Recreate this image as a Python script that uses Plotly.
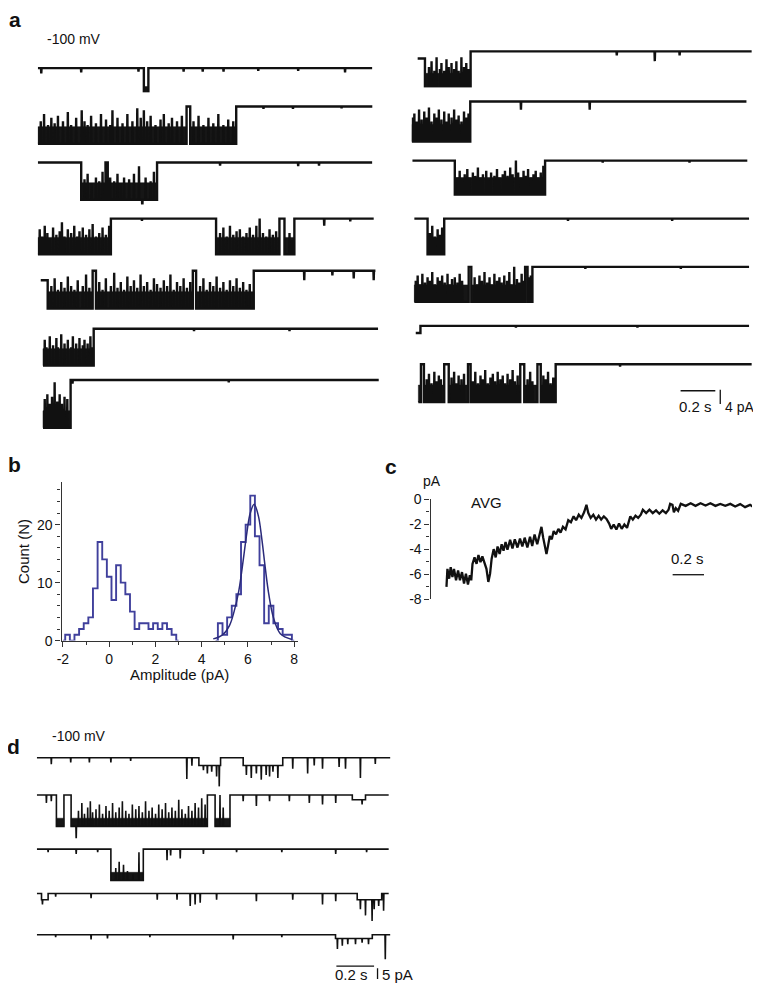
import plotly.graph_objects as go

# Figure is placed at an 8 px body margin, so the figure is the window minus 2*8 px
PAGE_W, PAGE_H, BODY = 761, 995, 8
FW, FH = PAGE_W - 2 * BODY, PAGE_H - 2 * BODY
FONT = "Arial, 'Liberation Sans', Helvetica, sans-serif"
INK = "#111111"
HIST = "#40409c"
FIT = "#2a2a7a"

# ======================= DATA =======================
# Panel a, left column: time (s), current (pA), closed level = 0
aL1_span = [0.0, 1.926]; aL1_amp = -10.0
aL1_states = [(0.611, 0.637, 1.0)]
aL1_flick_t = []; aL1_flick_h = []
aL1_blip_t = [0.02, 0.25, 0.58, 0.84, 0.95, 1.07, 1.27, 1.5, 1.77]
aL1_blip_h = [0.15, 0.12, 0.1, 0.1, 0.1, 0.1, 0.08, 0.08, 0.12]

aL2_span = [0.0, 1.927]; aL2_amp = -10.5
aL2_states = [(0.0, 0.857, 1.0), (0.878, 1.143, 1.0)]
aL2_flick_t = [0.017, 0.036, 0.059, 0.078, 0.097, 0.116, 0.145, 0.173, 0.192, 0.221, 0.253, 0.269, 0.287, 0.307, 0.335,
               0.364, 0.393, 0.417, 0.430, 0.459, 0.488, 0.516, 0.545, 0.573, 0.593, 0.611, 0.630, 0.650, 0.678, 0.707,
               0.726, 0.754, 0.773, 0.802, 0.830, 0.897, 0.926, 0.954, 0.983, 1.011, 1.040, 1.069, 1.097, 1.126]
aL2_flick_h = [0.6, 0.8, 0.5, 0.7, 0.55, 0.75, 0.6, 0.85, 0.5, 0.7, 0.9, 0.6, 0.5, 0.75, 0.55,
               0.8, 0.65, 0.5, 0.9, 0.7, 0.55, 0.8, 0.6, 0.95, 0.7, 0.9, 0.6, 0.75, 0.5, 0.65,
               0.8, 0.55, 0.7, 0.6, 0.75, 0.6, 0.75, 0.5, 0.7, 0.55, 0.8, 0.5, 0.65, 0.6]
aL2_blip_t = [1.3, 1.47, 1.75]; aL2_blip_h = [0.06, 0.06, 0.05]

aL3_span = [0.0, 1.926]; aL3_amp = -10.5
aL3_states = [(0.25, 0.39, 1.0), (0.403, 0.687, 1.0)]
aL3_flick_t = [0.269, 0.287, 0.31, 0.335, 0.354, 0.373, 0.417, 0.44, 0.459, 0.478, 0.497, 0.526, 0.554, 0.583,
               0.602, 0.621, 0.65, 0.669]
aL3_flick_h = [0.55, 0.7, 0.45, 0.6, 0.5, 0.75, 0.6, 0.5, 0.7, 0.45, 0.6, 0.55, 0.7, 0.9,
               -0.25, 0.6, 0.5, 0.75]
aL3_blip_t = [1.05, 1.5, 1.62]; aL3_blip_h = [0.08, 0.1, 0.08]

aL4_span = [0.0, 1.935]; aL4_amp = -10.1
aL4_states = [(0.0, 0.421, 1.0), (1.027, 1.392, 1.0), (1.421, 1.478, 1.0)]
aL4_flick_t = [0.011, 0.025, 0.04, 0.055, 0.069, 0.088, 0.107, 0.126, 0.139, 0.154, 0.173, 0.192, 0.21, 0.227,
               0.24, 0.259, 0.278, 0.297, 0.316, 0.335, 0.354, 0.373, 0.392, 0.411,
               1.05, 1.069, 1.088, 1.107, 1.126, 1.145, 1.164, 1.183, 1.202, 1.221, 1.24, 1.259, 1.278, 1.297,
               1.316, 1.335, 1.354, 1.373, 1.45, 1.465]
aL4_flick_h = [0.7, 0.5, 0.8, 0.6, 0.45, 0.75, 0.55, 0.65, 0.9, 0.5, 0.7, 0.6, 0.8, 0.5,
               0.65, 0.75, 0.55, 0.7, 0.85, 0.5, 0.6, 0.75, 0.55, 0.8,
               0.6, 0.75, 0.5, 0.8, 0.55, 0.65, 0.7, 0.5, 0.6, 0.75, 0.55, 0.8, 1.0, 0.6,
               0.5, 0.7, 0.55, 0.65, 0.6, 0.4]
aL4_blip_t = [0.6, 1.65, 1.8]; aL4_blip_h = [0.06, 0.2, 0.08]

aL5_span = [0.017, 1.945]; aL5_amp = -10.7
aL5_states = [(0.017, 0.057, 0.25), (0.057, 0.316, 1.0), (0.335, 0.893, 1.0), (0.912, 1.244, 1.0)]
aL5_flick_t = [0.078, 0.097, 0.116, 0.135, 0.154, 0.173, 0.192, 0.211, 0.23, 0.259, 0.278, 0.297, 0.354, 0.373,
               0.392, 0.421, 0.44, 0.459, 0.478, 0.497, 0.516, 0.535, 0.554, 0.573, 0.592, 0.611, 0.63, 0.65,
               0.669, 0.687, 0.707, 0.726, 0.745, 0.764, 0.783, 0.802, 0.821, 0.84, 0.859, 0.878, 0.935, 0.954,
               0.973, 0.992, 1.011, 1.03, 1.05, 1.069, 1.088, 1.107, 1.126, 1.145, 1.164, 1.183, 1.202, 1.221]
aL5_flick_h = [0.6, 0.8, 0.5, 0.7, 0.55, 0.85, 0.6, 0.5, 0.75, 0.6, 0.9, 0.55, 0.7, 0.5,
               0.8, 0.6, 0.95, 0.55, 0.7, 0.5, 0.85, 0.6, 0.75, 0.55, 0.9, 0.6, 0.7, 0.5,
               0.8, 0.65, 0.55, 0.75, 0.6, 0.9, 0.5, 0.7, 0.6, 0.8, 0.55, 0.7, 0.6, 0.8,
               0.5, 0.7, 0.6, 0.85, 0.55, 0.7, 0.5, 0.75, 0.6, 0.8, 0.55, 0.7, 0.5, 0.65]
aL5_blip_t = [1.535, 1.697, 1.82, 1.935]; aL5_blip_h = [0.25, 0.12, 0.2, 0.25]

aL6_span = [0.03, 1.96]; aL6_amp = -10.4
aL6_states = [(0.03, 0.322, 1.0)]
aL6_flick_t = [0.04, 0.05, 0.069, 0.088, 0.107, 0.116, 0.135, 0.154, 0.173, 0.192, 0.202, 0.221, 0.24, 0.259,
               0.269, 0.287, 0.303, 0.316]
aL6_flick_h = [0.7, 0.5, 0.8, 0.55, 0.75, 0.5, 0.85, 0.6, 0.7, 0.5, 0.8, 0.6, 0.75, 0.55,
               0.7, 0.6, 0.8, 0.5]
aL6_blip_t = [0.9, 1.45]; aL6_blip_h = [0.06, 0.06]

aL7_span = [0.03, 1.964]; aL7_amp = -13.5
aL7_states = [(0.03, 0.189, 1.0)]
aL7_flick_t = [0.04, 0.055, 0.069, 0.082, 0.097, 0.112, 0.126, 0.139, 0.154, 0.17]
aL7_flick_h = [0.6, 0.7, 0.5, 0.65, 0.95, 0.55, 0.7, 0.5, 0.65, 0.6]
aL7_blip_t = [0.2, 1.1]; aL7_blip_h = [0.08, 0.05]

# Panel a, right column
aR1_span = [0.034, 1.958]; aR1_amp = -11.0
aR1_states = [(0.034, 0.076, 0.18), (0.076, 0.339, 1.0)]
aR1_flick_t = [0.099, 0.114, 0.13, 0.143, 0.162, 0.171, 0.187, 0.2, 0.213, 0.229, 0.244, 0.257, 0.27, 0.286,
               0.301, 0.314, 0.327]
aR1_flick_h = [0.6, 0.75, 0.5, 0.85, 0.55, 0.7, 0.5, 0.8, 0.6, 0.7, 0.55, 0.75, 0.5, 0.85,
               0.6, 0.7, 0.55]
aR1_blip_t = [1.181, 1.4, 1.543]; aR1_blip_h = [0.1, 0.25, 0.1]

aR2_span = [0.0, 1.928]; aR2_amp = -11.3
aR2_states = [(0.0, 0.337, 1.0)]
aR2_flick_t = [0.004, 0.015, 0.029, 0.042, 0.057, 0.072, 0.086, 0.099, 0.114, 0.13, 0.143, 0.156, 0.171, 0.187,
               0.2, 0.213, 0.229, 0.244, 0.257, 0.27, 0.286, 0.301, 0.314, 0.327]
aR2_flick_h = [0.6, 0.7, 0.5, 0.8, 0.55, 0.75, 0.6, 0.85, 0.5, 0.7, 0.6, 0.8, 0.55, 0.75,
               0.5, 0.7, 0.6, 0.8, 0.55, 0.65, 0.5, 0.75, 0.6, 0.7]
aR2_blip_t = [0.629, 1.025]; aR2_blip_h = [0.2, 0.2]

aR3_span = [0.004, 1.933]; aR3_amp = -9.6
aR3_states = [(0.248, 0.768, 1.0)]
aR3_flick_t = [0.263, 0.276, 0.29, 0.305, 0.32, 0.333, 0.352, 0.366, 0.381, 0.396, 0.41, 0.429, 0.442, 0.457,
               0.476, 0.491, 0.505, 0.524, 0.537, 0.552, 0.567, 0.581, 0.6, 0.613, 0.629, 0.644, 0.657, 0.67,
               0.686, 0.701, 0.714, 0.727, 0.743, 0.758]
aR3_flick_h = [0.5, 0.7, 0.45, 0.6, 0.75, 0.5, 0.65, 0.55, 0.8, 0.5, 0.6, 0.7, 0.45, 0.65,
               0.55, 0.75, 0.5, 0.6, 0.7, 0.55, 0.8, 0.6, 1.0, 0.65, 0.5, 0.7, 0.55, 0.75,
               0.5, 0.6, 0.7, 0.5, 0.65, 0.85]
aR3_blip_t = [1.1, 1.6]; aR3_blip_h = [0.06, 0.06]

aR4_span = [0.015, 1.943]; aR4_amp = -10.1
aR4_states = [(0.091, 0.187, 1.0)]
aR4_flick_t = [0.105, 0.118, 0.133, 0.149, 0.162, 0.175]
aR4_flick_h = [0.6, 0.8, 0.5, 0.7, 0.55, 0.75]
aR4_blip_t = [0.9, 1.5]; aR4_blip_h = [0.06, 0.06]

aR5_span = [0.015, 1.943]; aR5_amp = -9.9
aR5_states = [(0.015, 0.328, 1.0), (0.343, 0.653, 1.0), (0.667, 0.695, 1.0)]
aR5_flick_t = [0.023, 0.034, 0.048, 0.061, 0.076, 0.091, 0.105, 0.118, 0.133, 0.149, 0.162, 0.175, 0.19, 0.206,
               0.219, 0.232, 0.248, 0.263, 0.276, 0.29, 0.362, 0.377, 0.39, 0.404, 0.419, 0.434, 0.448, 0.461,
               0.476, 0.491, 0.505, 0.518, 0.533, 0.549, 0.562, 0.575, 0.59, 0.606, 0.619, 0.633, 0.644, 0.676,
               0.686]
aR5_flick_h = [0.6, 0.75, 0.5, 0.8, 0.55, 0.7, 0.6, 0.85, 0.5, 0.7, 0.6, 0.75, 0.55, 0.8,
               0.5, 0.65, 0.7, 0.55, 0.8, 0.6, 0.7, 0.5, 0.75, 0.6, 0.85, 0.55, 0.7, 0.5,
               0.8, 0.6, 0.7, 0.55, 0.75, 0.6, 0.85, 0.5, 1.0, 0.65, 0.55, 0.8, 0.6, 0.7,
               0.75]
aR5_blip_t = [1.0, 1.55]; aR5_blip_h = [0.06, 0.06]

aR6_span = [0.023, 1.943]; aR6_amp = -10.0
aR6_states = [(0.023, 0.05, 0.2)]
aR6_flick_t = []; aR6_flick_h = []
aR6_blip_t = [0.6, 1.3]; aR6_blip_h = [0.05, 0.05]

aR7_span = [0.038, 1.958]; aR7_amp = -10.7
aR7_states = [(0.038, 0.053, 1.0), (0.07, 0.187, 1.0), (0.213, 0.324, 1.0), (0.339, 0.625, 1.0),
              (0.648, 0.724, 1.0), (0.743, 0.829, 1.0)]
aR7_flick_t = [0.086, 0.099, 0.114, 0.13, 0.143, 0.156, 0.168, 0.229, 0.244, 0.257, 0.27, 0.286, 0.301, 0.352,
               0.366, 0.381, 0.396, 0.41, 0.423, 0.438, 0.453, 0.467, 0.48, 0.495, 0.51, 0.524, 0.537, 0.552,
               0.567, 0.581, 0.594, 0.61, 0.667, 0.682, 0.695, 0.758, 0.771, 0.785, 0.8, 0.815]
aR7_flick_h = [0.6, 0.75, 0.5, 0.8, 0.55, 0.7, 0.6, 0.65, 0.8, 0.5, 0.7, 0.6, 0.75, 0.55,
               0.8, 0.5, 0.7, 0.6, 0.85, 0.5, 0.65, 0.75, 0.55, 0.8, 0.6, 0.7, 0.5, 0.75,
               0.6, 0.85, 0.55, 0.7, 0.6, 0.8, 0.55, 0.7, 0.6, 0.8, 0.5, 0.65]
aR7_blip_t = [1.2]; aR7_blip_h = [0.06]

# Panel d
d1_span = [0.0, 1.875]; d1_amp = -14.5
d1_states = [(0.86, 0.975, 0.25), (1.095, 1.305, 0.25)]
d1_flick_t = []; d1_flick_h = []
d1_blip_t = [0.077, 0.18, 0.279, 0.393, 0.498, 0.796, 0.823, 0.884, 0.905, 0.928, 0.954, 0.968, 1.112, 1.138,
             1.165, 1.191, 1.217, 1.235, 1.253, 1.279, 1.358, 1.437, 1.472, 1.516, 1.604, 1.638, 1.717, 1.796]
d1_blip_h = [0.21, 0.15, 0.15, 0.15, 0.1, 0.68, 0.26, 0.4, 0.5, 0.45, 0.6, 0.94, 0.55, 0.65,
             0.5, 0.7, 0.55, 0.6, 0.45, 0.65, 0.35, 0.5, 0.25, 0.35, 0.3, 0.35, 0.65, 0.2]

d2_span = [0.0, 1.867]; d2_amp = -14.5
d2_states = [(0.104, 0.144, 1.0), (0.182, 0.905, 1.0), (0.946, 1.025, 1.0), (1.674, 1.744, 0.15)]
d2_flick_t = [0.209, 0.221, 0.239, 0.253, 0.270, 0.284, 0.296, 0.314, 0.332, 0.349, 0.367, 0.384, 0.402, 0.419,
              0.437, 0.454, 0.472, 0.489, 0.507, 0.525, 0.542, 0.56, 0.577, 0.595, 0.612, 0.63, 0.647, 0.665,
              0.683, 0.7, 0.717, 0.735, 0.753, 0.77, 0.788, 0.805, 0.823, 0.84, 0.858, 0.875, 0.893, 0.972,
              0.989]
d2_flick_h = [-0.45, 0.5, 0.75, 0.4, 0.6, 0.8, 0.45, 0.55, 0.7, 0.4, 0.65, 0.5, 0.75, 0.45,
              0.6, 0.8, 0.5, 0.4, 0.7, 0.55, 0.65, 0.45, 0.8, 0.5, 0.6, 0.4, 0.7, 0.55,
              0.75, 0.45, 0.6, 0.5, 0.85, 0.55, 0.4, 0.65, 0.5, 0.75, 0.6, 0.9, 0.7, 1.0,
              0.6]
d2_blip_t = [0.051, 0.077, 1.095, 1.165, 1.235, 1.34, 1.446, 1.516, 1.586, 1.726]
d2_blip_h = [0.25, 0.2, 0.2, 0.35, 0.2, 0.2, 0.25, 0.3, 0.25, 0.3]

d3_span = [0.0, 1.867]; d3_amp = -14.5
d3_states = [(0.393, 0.565, 1.0)]
d3_flick_t = [0.419, 0.437, 0.46, 0.481, 0.51, 0.542]
d3_flick_h = [0.4, 0.6, 0.5, 0.3, 0.2, 0.9]
d3_blip_t = [0.06, 0.209, 0.323, 0.691, 0.71, 0.761, 0.884, 1.06, 1.3, 1.586, 1.75]
d3_blip_h = [0.1, 0.15, 0.1, 0.35, 0.2, 0.3, 0.15, 0.1, 0.1, 0.15, 0.1]

d4_span = [0.0, 1.867]; d4_amp = -14.5
d4_states = [(0.025, 0.06, 0.2), (1.70, 1.83, 0.2)]
d4_flick_t = []; d4_flick_h = []
d4_blip_t = [0.03, 0.1, 0.288, 0.639, 0.744, 0.814, 0.84, 0.867, 0.954, 1.165, 1.358, 1.516, 1.586, 1.717,
             1.744, 1.779, 1.79, 1.814, 1.84]
d4_blip_h = [0.35, 0.1, 0.15, 0.2, 0.2, 0.4, 0.35, 0.3, 0.2, 0.25, 0.2, 0.35, 0.25, 0.5,
             0.7, 0.88, 0.5, 0.4, 0.55]

d5_span = [0.0, 1.875]; d5_amp = -14.5
d5_states = [(1.585, 1.78, 0.12)]
d5_flick_t = []; d5_flick_h = []
d5_blip_t = [0.1, 0.288, 0.375, 0.6, 1.042, 1.3, 1.595, 1.621, 1.65, 1.691, 1.726, 1.76, 1.849]
d5_blip_h = [0.08, 0.15, 0.12, 0.08, 0.15, 0.08, 0.45, 0.35, 0.3, 0.3, 0.25, 0.3, 0.78]

# Panel b: amplitude histogram (bin centres, pA; counts)
b_left_center = [-2.0, -1.8, -1.6, -1.4, -1.2, -1.0, -0.8, -0.6, -0.4, -0.2, 0.0, 0.2, 0.4, 0.6, 0.8, 1.0,
                 1.2, 1.4, 1.6, 1.8, 2.0, 2.2, 2.4, 2.6, 2.8, 3.0]
b_left_count = [0, 1, 0, 1, 2, 3, 4, 9, 17, 14, 11, 7, 13, 10, 8, 5,
                2, 3, 3, 2, 3, 2, 3, 2, 1, 0]
b_right_center = [4.6, 4.8, 5.0, 5.2, 5.4, 5.6, 5.8, 6.0, 6.2, 6.4, 6.6, 6.8, 7.0, 7.2, 7.4, 7.6, 7.8, 8.0]
b_right_count = [0, 3, 1, 4, 6, 8, 17, 20, 25, 18, 13, 3, 6, 3, 2, 1, 1, 0]
b_fit_x = [4.5, 4.9, 5.2, 5.4, 5.6, 5.8, 5.95, 6.1, 6.27, 6.45, 6.6, 6.75, 6.9, 7.1, 7.4, 7.9]
b_fit_y = [0.3, 1.0, 2.6, 5.0, 8.5, 14.0, 18.5, 22.0, 23.5, 21.5, 17.5, 12.5, 8.0, 4.0, 1.2, 0.2]
b_xticks = [-2, 0, 2, 4, 6, 8]
b_yticks = [0, 10, 20]

# Panel c: averaged current (s, pA)
c_t = [0.000, 0.006, 0.017, 0.027, 0.038, 0.048, 0.061, 0.074, 0.086, 0.099, 0.112, 0.124, 0.137, 0.149, 0.158,
       0.166, 0.179, 0.192, 0.204, 0.217, 0.229, 0.242, 0.255, 0.267, 0.278, 0.288, 0.301, 0.314, 0.326, 0.339,
       0.352, 0.364, 0.377, 0.389, 0.406, 0.421, 0.436, 0.453, 0.469, 0.484, 0.499, 0.516, 0.533, 0.547, 0.562,
       0.579, 0.596, 0.606, 0.617, 0.627, 0.638, 0.648, 0.659, 0.672, 0.684, 0.699, 0.714, 0.728, 0.743, 0.76,
       0.777, 0.794, 0.811, 0.827, 0.844, 0.861, 0.878, 0.893, 0.905, 0.92, 0.937, 0.954, 0.971, 0.987, 1.004,
       1.021, 1.038, 1.051, 1.067, 1.084, 1.101, 1.118, 1.135, 1.152, 1.164, 1.173, 1.189, 1.206, 1.223, 1.24,
       1.253, 1.274, 1.295, 1.316, 1.337, 1.358, 1.379, 1.4, 1.417, 1.427, 1.442, 1.451, 1.463, 1.478, 1.495,
       1.526, 1.558, 1.589, 1.621, 1.653, 1.684, 1.716, 1.747, 1.779, 1.811, 1.842, 1.874, 1.905, 1.937, 1.968]
c_i = [-7.03, -5.58, -6.37, -5.45, -6.24, -5.58, -6.5, -5.71, -6.5, -5.84, -6.76, -5.97, -6.84, -6.1, -6.5,
       -5.18, -4.66, -5.18, -4.47, -5.05, -4.58, -5.18, -5.58, -6.63, -5.97, -4.79, -4.0, -4.66, -3.79, -4.39,
       -3.61, -4.13, -3.42, -4.05, -3.26, -3.95, -3.21, -3.87, -3.16, -3.79, -3.08, -3.87, -3.0, -3.74, -2.82,
       -3.61, -2.82, -2.21, -3.08, -3.74, -4.39, -3.74, -2.95, -3.21, -2.55, -2.82, -2.37, -2.68, -2.21, -2.42,
       -1.68, -1.84, -1.37, -1.68, -1.24, -1.5, -1.05, -0.45, -1.11, -1.5, -1.24, -1.63, -1.32, -1.63, -1.37,
       -1.58, -1.95, -2.37, -2.03, -2.42, -1.95, -2.37, -2.03, -2.29, -1.76, -1.37, -1.63, -1.32, -1.5, -1.24,
       -0.84, -1.11, -0.84, -1.11, -0.89, -1.16, -0.89, -1.11, -0.84, -0.37, -0.45, -1.05, -0.71, -0.92, -0.37,
       -0.53, -0.32, -0.53, -0.32, -0.5, -0.32, -0.53, -0.37, -0.53, -0.37, -0.58, -0.39, -0.63, -0.45, -0.71]
c_yticks = [0, -2, -4, -6, -8]

# Scale bars (value sizes)
a_bar_s, a_bar_pA = 0.2, 4.0
d_bar_s, d_bar_pA = 0.2, 5.0
c_bar_s = 0.2

# ======================= LAYOUT GEOMETRY (window pixels) =======================
def pxx(x):
    return (x - BODY) / FW

def pxy(y):
    return 1 - (y - BODY) / FH

A_PPA, A_YR = 3.6, (-15.0, 4.0)     # px per pA, y range per trace axis
D_PPA, D_YR = 2.2, (-20.0, 4.0)
aL_base_px = [61, 100, 157, 214, 267, 326, 378]
aR_base_px = [44, 95, 155, 214, 263, 323, 362]
d_base_px = [762, 800, 855, 900, 942]

a_left_x = (33, 175.0, 2.0)    # left px, px per s, range s
a_right_x = (410, 175.0, 1.96)
d_x = (32, 190.0, 1.9)

# ======================= BUILD =======================
def build_trace(span, amp, states, ft, fh, bt, bh, w=0.0016):
    t0, t1 = span

    def level(t):
        for a, b, f in states:
            if a <= t < b:
                return amp * f
        return 0.0

    items = []
    bounds = {t0, t1}
    for a, b, f in states:
        bounds.add(a); bounds.add(b)
    for t in sorted(bounds):
        if t0 <= t <= t1:
            items.append((t, 0, 0.0))
    for t, h in zip(ft, fh):
        items.append((t, 1, amp * (1 - h)))
    for t, h in zip(bt, bh):
        items.append((t, 1, amp * h))
    items.sort()
    xs, ys = [], []
    for t, kind, peak in items:
        if kind == 0:
            if t > t0:
                xs.append(t); ys.append(level(t - 1e-9))
            if t < t1:
                xs.append(t); ys.append(level(t))
        else:
            base = level(t)
            xs += [t - w, t, t + w]
            ys += [base, peak, base]
    return xs, ys


fig = go.Figure()
layout = dict(
    width=FW, height=FH, autosize=False,
    margin=dict(l=0, r=0, t=0, b=0),
    paper_bgcolor="white", plot_bgcolor="white",
    showlegend=False,
    font=dict(family=FONT, color=INK, size=14),
)

AX = dict(showline=True, linecolor="#333", linewidth=1.3, ticks="outside", ticklen=5, tickwidth=1.2,
          tickcolor="#333", tickfont=dict(size=14, color=INK), showgrid=False, zeroline=False, fixedrange=True)

# Panel b axes: x / y
layout["xaxis"] = dict(AX, domain=[pxx(57), pxx(295)], range=[-2.056, 8.15], anchor="y",
                       tickvals=b_xticks, ticktext=[str(v) for v in b_xticks],
                       minor=dict(ticks="outside", ticklen=3, dtick=1, tick0=0, tickcolor="#333", showgrid=False))
layout["yaxis"] = dict(AX, domain=[pxy(643), pxy(482)], range=[0, 27.3], anchor="x",
                       tickvals=b_yticks, ticktext=[str(v) for v in b_yticks],
                       minor=dict(ticks="outside", ticklen=3, dtick=2, tick0=0, tickcolor="#333", showgrid=False))
for cx, cy in [(b_left_center, b_left_count), (b_right_center, b_right_count)]:
    fig.add_trace(go.Scatter(x=cx, y=cy, mode="lines", line=dict(color=HIST, width=1.9, shape="hvh"),
                             xaxis="x", yaxis="y", hoverinfo="skip"))
fig.add_trace(go.Scatter(x=b_fit_x, y=b_fit_y, mode="lines", line=dict(color=FIT, width=1.5, shape="spline"),
                         xaxis="x", yaxis="y", hoverinfo="skip"))

# Panel c axes: x2 / y2
c_left_px, c_t0_px, c_ppx, c_right_px = 429, 445, 158.0, 753
c_top_px, c_bot_px = 499.3, 600.7
layout["xaxis2"] = dict(domain=[pxx(c_left_px), pxx(c_right_px)],
                        range=[(c_left_px - c_t0_px) / c_ppx, (c_right_px - c_t0_px) / c_ppx],
                        anchor="y2", visible=False, fixedrange=True)
layout["yaxis2"] = dict(AX, domain=[pxy(c_bot_px), pxy(c_top_px)], range=[-8, 0], anchor="x2",
                        tickvals=c_yticks, ticktext=[str(v) for v in c_yticks],
                        minor=dict(ticks="outside", ticklen=3, dtick=1, tick0=0, tickcolor="#333", showgrid=False))
fig.add_trace(go.Scatter(x=c_t, y=c_i, mode="lines", line=dict(color=INK, width=2.3),
                         xaxis="x2", yaxis="y2", hoverinfo="skip"))

# Column x axes for traces
def col_axis(spec):
    left, ppx, rng = spec
    return dict(domain=[pxx(left), min(1.0, pxx(left + rng * ppx))], range=[0, rng], visible=False,
                anchor="free", position=0, fixedrange=True)

layout["xaxis3"] = col_axis(a_left_x)
layout["xaxis4"] = col_axis(a_right_x)
layout["xaxis5"] = col_axis(d_x)

ynum = [6]
def add_record(xname, base_px, ppa, yr, span, amp, states, ft, fh, bt, bh, band, lw):
    n = ynum[0]; ynum[0] += 1
    top = base_px - yr[1] * ppa
    bot = base_px - yr[0] * ppa
    layout[f"yaxis{n}"] = dict(domain=[max(0.0, pxy(bot)), min(1.0, pxy(top))], range=list(yr), visible=False,
                               anchor=xname, fixedrange=True)
    for a, b, f in states:
        if f >= 1.0 and b - a > 0.012:
            fig.add_trace(go.Scatter(x=[a, b, b, a, a], y=[amp, amp, amp + band, amp + band, amp],
                                     mode="lines", fill="toself", fillcolor="#161616",
                                     line=dict(width=0.5, color="#161616"),
                                     xaxis=xname, yaxis=f"y{n}", hoverinfo="skip"))
    xs, ys = build_trace(span, amp, states, ft, fh, bt, bh)
    fig.add_trace(go.Scatter(x=xs, y=ys, mode="lines", line=dict(color=INK, width=lw),
                             xaxis=xname, yaxis=f"y{n}", hoverinfo="skip"))
    return f"y{n}"

aL_records = [
    (aL1_span, aL1_amp, aL1_states, aL1_flick_t, aL1_flick_h, aL1_blip_t, aL1_blip_h),
    (aL2_span, aL2_amp, aL2_states, aL2_flick_t, aL2_flick_h, aL2_blip_t, aL2_blip_h),
    (aL3_span, aL3_amp, aL3_states, aL3_flick_t, aL3_flick_h, aL3_blip_t, aL3_blip_h),
    (aL4_span, aL4_amp, aL4_states, aL4_flick_t, aL4_flick_h, aL4_blip_t, aL4_blip_h),
    (aL5_span, aL5_amp, aL5_states, aL5_flick_t, aL5_flick_h, aL5_blip_t, aL5_blip_h),
    (aL6_span, aL6_amp, aL6_states, aL6_flick_t, aL6_flick_h, aL6_blip_t, aL6_blip_h),
    (aL7_span, aL7_amp, aL7_states, aL7_flick_t, aL7_flick_h, aL7_blip_t, aL7_blip_h),
]
aR_records = [
    (aR1_span, aR1_amp, aR1_states, aR1_flick_t, aR1_flick_h, aR1_blip_t, aR1_blip_h),
    (aR2_span, aR2_amp, aR2_states, aR2_flick_t, aR2_flick_h, aR2_blip_t, aR2_blip_h),
    (aR3_span, aR3_amp, aR3_states, aR3_flick_t, aR3_flick_h, aR3_blip_t, aR3_blip_h),
    (aR4_span, aR4_amp, aR4_states, aR4_flick_t, aR4_flick_h, aR4_blip_t, aR4_blip_h),
    (aR5_span, aR5_amp, aR5_states, aR5_flick_t, aR5_flick_h, aR5_blip_t, aR5_blip_h),
    (aR6_span, aR6_amp, aR6_states, aR6_flick_t, aR6_flick_h, aR6_blip_t, aR6_blip_h),
    (aR7_span, aR7_amp, aR7_states, aR7_flick_t, aR7_flick_h, aR7_blip_t, aR7_blip_h),
]
d_records = [
    (d1_span, d1_amp, d1_states, d1_flick_t, d1_flick_h, d1_blip_t, d1_blip_h),
    (d2_span, d2_amp, d2_states, d2_flick_t, d2_flick_h, d2_blip_t, d2_blip_h),
    (d3_span, d3_amp, d3_states, d3_flick_t, d3_flick_h, d3_blip_t, d3_blip_h),
    (d4_span, d4_amp, d4_states, d4_flick_t, d4_flick_h, d4_blip_t, d4_blip_h),
    (d5_span, d5_amp, d5_states, d5_flick_t, d5_flick_h, d5_blip_t, d5_blip_h),
]

for base, rec in zip(aL_base_px, aL_records):
    add_record("x3", base, A_PPA, A_YR, *rec, band=4.8, lw=2.4)
for base, rec in zip(aR_base_px, aR_records):
    add_record("x4", base, A_PPA, A_YR, *rec, band=4.8, lw=2.4)
for base, rec in zip(d_base_px, d_records):
    add_record("x5", base, D_PPA, D_YR, *rec, band=3.8, lw=1.6)

# ======================= SCALE BARS =======================
shapes = []
BAR = dict(color=INK, width=1.3)
# panel a: 0.2 s horizontal, 4 pA vertical
a_bar_t0 = (681 - a_right_x[0]) / a_right_x[1]
shapes.append(dict(type="line", xref="x4", yref="paper", x0=a_bar_t0, x1=a_bar_t0 + a_bar_s,
                   y0=pxy(389), y1=pxy(389), line=BAR))
a_vbar_t = (721 - a_right_x[0]) / a_right_x[1]
shapes.append(dict(type="line", xref="x4", yref="paper", x0=a_vbar_t, x1=a_vbar_t,
                   y0=pxy(388), y1=pxy(388 + a_bar_pA * A_PPA), line=BAR))
# panel d: 0.2 s horizontal, 5 pA vertical
d_bar_t0 = (334 - d_x[0]) / d_x[1]
shapes.append(dict(type="line", xref="x5", yref="paper", x0=d_bar_t0, x1=d_bar_t0 + d_bar_s,
                   y0=pxy(974), y1=pxy(974), line=BAR))
d_vbar_t = (375.5 - d_x[0]) / d_x[1]
shapes.append(dict(type="line", xref="x5", yref="paper", x0=d_vbar_t, x1=d_vbar_t,
                   y0=pxy(976), y1=pxy(976 + d_bar_pA * D_PPA), line=BAR))
# panel c: 0.2 s
c_bar_t0 = (673 - c_t0_px) / c_ppx
shapes.append(dict(type="line", xref="x2", yref="paper", x0=c_bar_t0, x1=c_bar_t0 + c_bar_s,
                   y0=pxy(576), y1=pxy(576), line=BAR))
layout["shapes"] = shapes

# ======================= TEXT =======================
anns = []
def ann(text, x, y, size=14, xanchor="center", yanchor="middle", angle=0, bold=False):
    anns.append(dict(text=f"<b>{text}</b>" if bold else text, x=pxx(x), y=pxy(y), xref="paper", yref="paper",
                     xanchor=xanchor, yanchor=yanchor, showarrow=False, textangle=angle,
                     font=dict(family=FONT, size=size, color=INK)))

ann("a", 10, 12, size=21, bold=True)
ann("b", 10, 464, size=21, bold=True)
ann("c", 389, 466, size=21, bold=True)
ann("d", 9, 751, size=21, bold=True)
ann("-100 mV", 40, 31, size=14, xanchor="left")
ann("-100 mV", 45, 740, size=14, xanchor="left")
ann("0.2 s", 696, 405, size=15)
ann("4 pA", 724, 405, size=14, xanchor="left")
ann("0.2 s", 349, 982, size=15)
ann("5 pA", 378, 982, size=15, xanchor="left")
ann("Count (N)", 18, 552, size=15, angle=-90)
ann("Amplitude (pA)", 176, 677, size=15)
ann("pA", 430, 481, size=14)
ann("AVG", 485, 503, size=15)
ann("0.2 s", 688, 560, size=15)
layout["annotations"] = anns

fig.update_layout(**layout)
fig.write_html("out.html", include_plotlyjs=True, config={"displayModeBar": False})
